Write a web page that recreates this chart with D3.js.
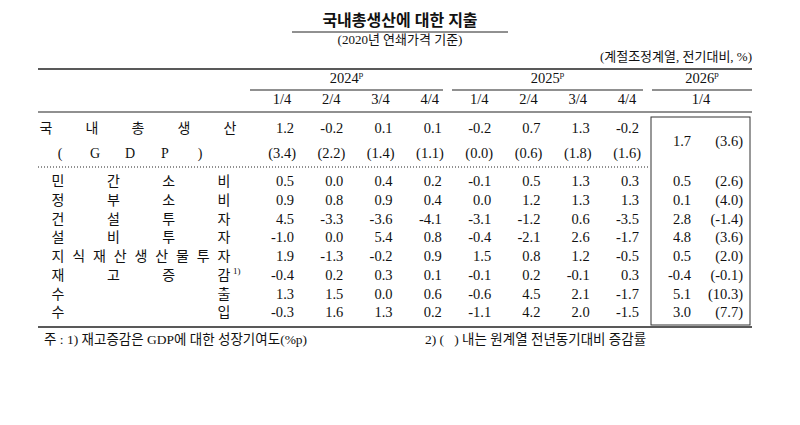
<!DOCTYPE html><html><head><meta charset="utf-8"><script src="https://cdn.jsdelivr.net/npm/d3@7"></script>
<style>body{margin:0;background:#fff}text{font-family:"Liberation Serif","Noto Sans CJK KR";fill:#111}</style></head><body><svg id="c" width="800" height="425"></svg><script>
const years=["2024","2025","2026"];
const quarters=["1/4","2/4","3/4","4/4","1/4","2/4","3/4","4/4","1/4"];
const rowLabels=["민간소비","정부소비","건설투자","설비투자","지식재산생산물투자","재고증감","수출","수입"];
const gdp=[1.2,-0.2,0.1,0.1,-0.2,0.7,1.3,-0.2,1.7];
const gdpYoy=[3.4,2.2,1.4,1.1,0.0,0.6,1.8,1.6,3.6];
const values=[
[0.5,0.0,0.4,0.2,-0.1,0.5,1.3,0.3,0.5],
[0.9,0.8,0.9,0.4,0.0,1.2,1.3,1.3,0.1],
[4.5,-3.3,-3.6,-4.1,-3.1,-1.2,0.6,-3.5,2.8],
[-1.0,0.0,5.4,0.8,-0.4,-2.1,2.6,-1.7,4.8],
[1.9,-1.3,-0.2,0.9,1.5,0.8,1.2,-0.5,0.5],
[-0.4,0.2,0.3,0.1,-0.1,0.2,-0.1,0.3,-0.4],
[1.3,1.5,0.0,0.6,-0.6,4.5,2.1,-1.7,5.1],
[-0.3,1.6,1.3,0.2,-1.1,4.2,2.0,-1.5,3.0]];
const yoy2026=[2.6,4.0,-1.4,3.6,2.0,-0.1,10.3,7.7];
const svg=d3.select("#c"),f=d=>d.toFixed(1);
const x=d3.scalePoint().domain(d3.range(8)).range([282,627]);
const y=d3.scalePoint().domain(d3.range(8)).range([183,314]);
const t=(a,b,s,o={})=>{const e=svg.append("text").attr("x",a).attr("y",b).text(s).attr("font-size",o.fs||14.5).attr("text-anchor",o.a||"middle").attr("dominant-baseline","middle").style("white-space","pre");if(o.w)e.attr("font-weight",o.w);return e;};
const line=(x1,y1,x2,y2,w=1,da)=>svg.append("line").attr("x1",x1).attr("y1",y1).attr("x2",x2).attr("y2",y2).attr("stroke","#222").attr("stroke-width",w).attr("stroke-dasharray",da||null);
t(400,22,"국내총생산에 대한 지출",{fs:16,w:"bold"});line(292,32,508,32,1);
t(400,41,"(2020년 연쇄가격 기준)",{fs:13});
t(752,58,"(계절조정계열, 전기대비, %)",{a:"end",fs:13});
line(38,69,752,69,1.6);
[[250,443],[452,643],[652,752]].forEach((r,i)=>{const e=t((r[0]+r[1])/2,80,years[i]);e.append("tspan").text("p").attr("font-size",9).attr("dy",-5);line(r[0],90,r[1],90,1.2);});
quarters.forEach((q,i)=>t(i<8?x(i):701,101,q));
line(38,112,752,112,1.2);
svg.append("rect").attr("x",651).attr("y",117).attr("width",99).attr("height",208).attr("fill","none").attr("stroke","#333");
const spread=(s,y0,x0,x1)=>{const c=[...s];c.forEach((ch,i)=>t(x0+(x1-x0)*i/(c.length-1),y0,ch,{fs:14}));};
spread("국내총생산",130,46,230);
spread("(GDP)",155,60,200);
gdp.slice(0,8).forEach((v,i)=>{t(x(i)+12,130,f(v),{a:"end"});t(x(i)+14,155,"("+f(gdpYoy[i])+")",{a:"end"});});
t(691,143,f(gdp[8]),{a:"end"});t(743,143,"("+f(gdpYoy[8])+")",{a:"end"});
line(38,167,650,167,1,"1,2");
rowLabels.forEach((l,r)=>{const yy=y(r);
 if(l==="수출"||l==="수입"){t(58,yy,l[0],{fs:14});t(224,yy,l[1],{fs:14});}
 else spread(l,yy,58,224);
 if(r===5)t(233,yy-5,"1)",{fs:9,a:"start"});
 values[r].slice(0,8).forEach((v,i)=>t(x(i)+12,yy,f(v),{a:"end"}));
 t(691,yy,f(values[r][8]),{a:"end"});t(743,yy,"("+f(yoy2026[r])+")",{a:"end"});
});
line(38,327,752,327,1.6);
t(44,341,"주 : 1) 재고증감은 GDP에 대한 성장기여도(%p)",{a:"start",fs:13.5});
t(425,341,"2) (\u00a0\u00a0\u00a0) 내는 원계열 전년동기대비 증감률",{a:"start",fs:13.5});
</script></body></html>
